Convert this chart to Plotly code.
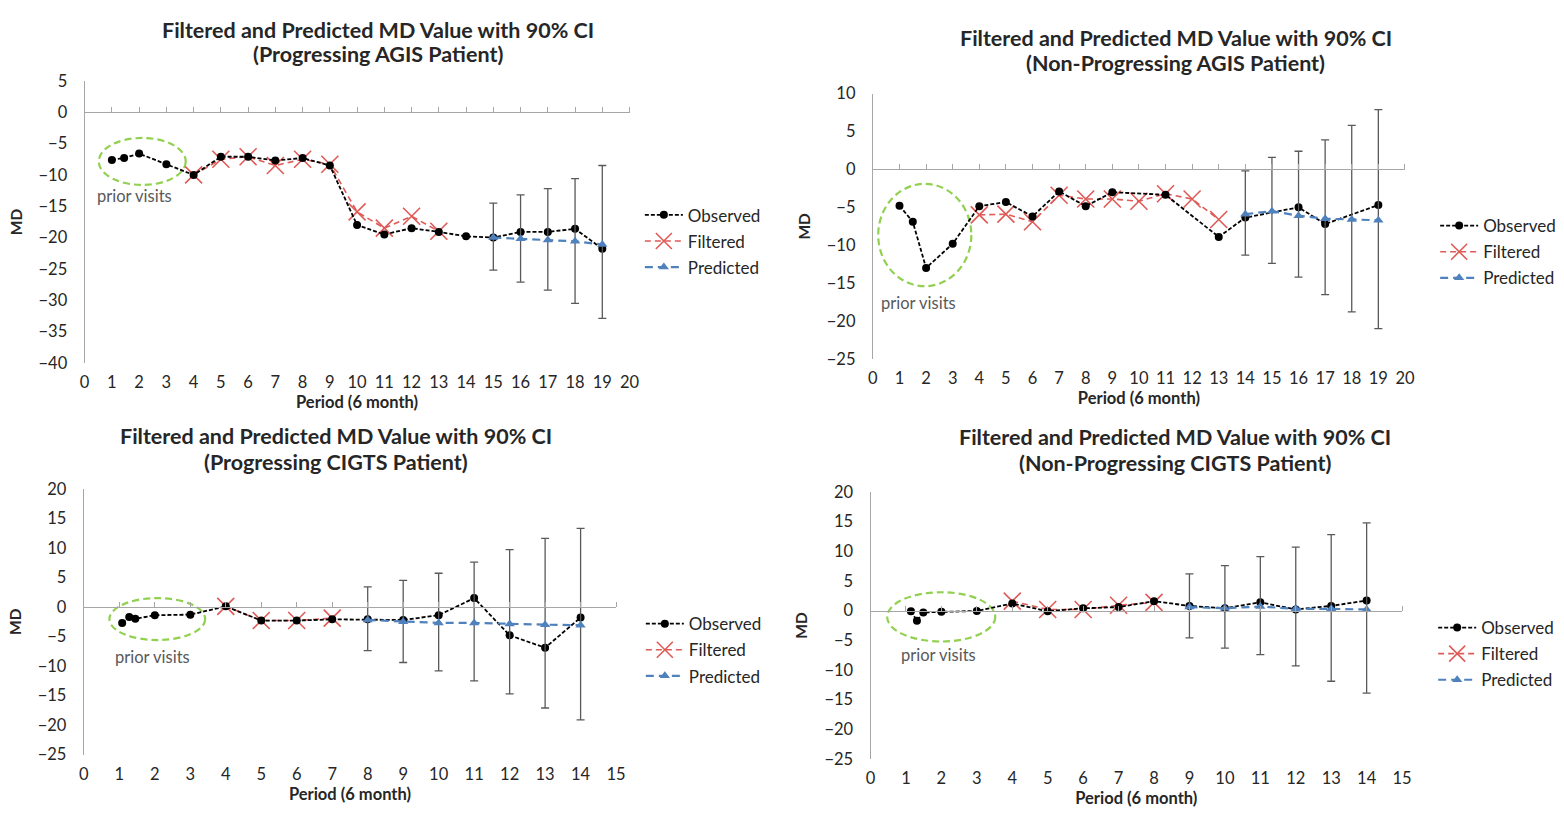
import plotly.graph_objects as go

# ---------------- data ----------------
period_label = "Period (6 month)"
md_label = "MD"
series_names = ["Observed", "Filtered", "Predicted"]
title_line1 = "Filtered and Predicted MD Value with 90% CI"
subtitles = [
    "(Progressing AGIS Patient)",
    "(Non-Progressing AGIS Patient)",
    "(Progressing CIGTS Patient)",
    "(Non-Progressing CIGTS Patient)",
]
note_text = "prior visits"

# Progressing AGIS patient
a_obs_x = [1, 1.45, 2, 3, 4, 5, 6, 7, 8, 9, 10, 11, 12, 13, 14, 15, 16, 17, 18, 19]
a_obs_y = [-7.6, -7.3, -6.6, -8.3, -10.0, -7.1, -7.1, -7.7, -7.3, -8.5,
           -18.0, -19.5, -18.5, -19.1, -19.8, -20.0, -19.1, -19.1, -18.6, -21.8]
a_filt_x = [4, 5, 6, 7, 8, 9, 10, 11, 12, 13]
a_filt_y = [-10.0, -7.5, -7.1, -8.5, -7.5, -8.3, -15.9, -18.5, -16.6, -19.0]
a_pred_x = [15, 16, 17, 18, 19]
a_pred_y = [-20.0, -20.2, -20.4, -20.6, -21.1]
a_ci_hi = [-14.5, -13.2, -12.2, -10.6, -8.5]
a_ci_lo = [-25.2, -27.1, -28.4, -30.5, -32.9]

# Non-progressing AGIS patient
b_obs_x = [1, 1.5, 2, 3, 4, 5, 6, 7, 8, 9, 11, 13, 14, 16, 17, 19]
b_obs_y = [-4.8, -6.9, -13.0, -9.8, -4.85, -4.3, -6.2, -2.9, -4.85, -3.0,
           -3.35, -8.9, -6.35, -5.0, -7.2, -4.7]
b_filt_x = [4, 5, 6, 7, 8, 9, 10, 11, 12, 13]
b_filt_y = [-6.0, -5.9, -6.9, -3.4, -3.9, -3.9, -4.2, -3.2, -3.9, -6.6]
b_pred_x = [14, 15, 16, 17, 18, 19]
b_pred_y = [-5.9, -5.5, -6.1, -6.5, -6.6, -6.7]
b_ci_hi = [-0.2, 1.6, 2.4, 3.9, 5.8, 7.9]
b_ci_lo = [-11.3, -12.4, -14.2, -16.5, -18.8, -21.0]

# Progressing CIGTS patient
c_obs_x = [1.08, 1.28, 1.45, 2, 3, 4, 5, 6, 7, 8, 9, 10, 11, 12, 13, 14]
c_obs_y = [-2.7, -1.7, -2.0, -1.4, -1.3, 0.1, -2.3, -2.3, -2.1, -2.1,
           -2.2, -1.4, 1.5, -4.8, -6.9, -1.8]
c_filt_x = [4, 5, 6, 7]
c_filt_y = [0.1, -2.3, -2.3, -1.9]
c_pred_x = [8, 9, 10, 11, 12, 13, 14]
c_pred_y = [-2.2, -2.5, -2.7, -2.7, -2.9, -3.0, -3.1]
c_ci_hi = [3.4, 4.5, 5.7, 7.6, 9.7, 11.6, 13.3]
c_ci_lo = [-7.4, -9.4, -10.8, -12.5, -14.7, -17.1, -19.1]

# Non-progressing CIGTS patient
d_obs_x = [1.14, 1.31, 1.49, 2, 3, 4, 5, 6, 7, 8, 9, 10, 11, 12, 13, 14]
d_obs_y = [-0.1, -1.7, -0.3, -0.2, -0.05, 1.2, -0.1, 0.4, 0.6, 1.6,
           0.8, 0.4, 1.4, 0.2, 0.8, 1.7]
d_filt_x = [4, 5, 6, 7, 8]
d_filt_y = [1.6, 0.2, 0.2, 0.9, 1.4]
d_pred_x = [9, 10, 11, 12, 13, 14]
d_pred_y = [0.6, 0.4, 0.7, 0.3, 0.3, 0.2]
d_ci_hi = [6.2, 7.6, 9.1, 10.7, 12.8, 14.8]
d_ci_lo = [-4.6, -6.3, -7.4, -9.3, -11.9, -13.9]

# axis ranges per panel
x_max = [20, 20, 15, 15]
y_ranges = [(-40, 5), (-25, 10), (-25, 20), (-25, 20)]

# ---------------- layout helpers ----------------
W, H = 1564, 821
FONT = "Lato"
TXT = "#262626"
AXIS_GRAY = "#A6A6A6"
RED = "#DE5B57"
BLUE = "#4F81BD"
GREEN = "#92D050"


def fx(px):
    return px / W


def fy(py):
    return 1 - py / H


panels = [
    dict(obs=(a_obs_x, a_obs_y), filt=(a_filt_x, a_filt_y), pred=(a_pred_x, a_pred_y),
         ci=(a_ci_lo, a_ci_hi), dom_x=(80.4, 630.6), dom_y=(72.7, 361.7),
         title=(377, 20, 45), legend=(641, 192),
         ellipse=(0.52, 3.71, -4.1, -11.6), note=(1.84, -13.4)),
    dict(obs=(b_obs_x, b_obs_y), filt=(b_filt_x, b_filt_y), pred=(b_pred_x, b_pred_y),
         ci=(b_ci_lo, b_ci_hi), dom_x=(876.3, 1413.5), dom_y=(85.7, 357.7),
         title=(1182, 29, 54), legend=(1444, 203),
         ellipse=(0.2, 3.7, -1.9, -15.4), note=(1.7, -17.6)),
    dict(obs=(c_obs_x, c_obs_y), filt=(c_filt_x, c_filt_y), pred=(c_pred_x, c_pred_y),
         ci=(c_ci_lo, c_ci_hi), dom_x=(79.6, 617.0), dom_y=(490.7, 763.3),
         title=(334, 437, 463), legend=(642, 611),
         ellipse=(0.72, 3.42, 1.5, -5.6), note=(1.94, -8.4)),
    dict(obs=(d_obs_x, d_obs_y), filt=(d_filt_x, d_filt_y), pred=(d_pred_x, d_pred_y),
         ci=(d_ci_lo, d_ci_hi), dom_x=(873.9, 1410.6), dom_y=(494.0, 767.7),
         title=(1181, 438, 464), legend=(1442, 615),
         ellipse=(0.47, 3.52, 3.1, -5.2), note=(1.93, -7.4)),
]

fig = go.Figure()
layout = dict(
    width=W, height=H,
    margin=dict(l=0, r=0, t=0, b=0),
    paper_bgcolor="white", plot_bgcolor="white",
    font=dict(family=FONT, color=TXT, size=16),
    shapes=[], annotations=[], showlegend=True,
)

for i, p in enumerate(panels):
    n = i + 1
    sfx = "" if n == 1 else str(n)
    xa, ya = f"x{sfx}", f"y{sfx}"
    leg = "legend" if n == 1 else f"legend{n}"
    ylo, yhi = y_ranges[i]

    fx_, fl_ = p["filt"]
    fig.add_trace(go.Scatter(
        x=fx_, y=fl_, name=series_names[1], mode="lines+markers",
        line=dict(color=RED, width=1.6, dash="6px,4px"),
        marker=dict(symbol="x-thin-open", size=17, line=dict(color=RED, width=1.6)),
        xaxis=xa, yaxis=ya, legend=leg, legendrank=2, legendgroup=f"f{n}",
    ))
    ox, oy = p["obs"]
    fig.add_trace(go.Scatter(
        x=ox, y=oy, name=series_names[0], mode="lines+markers",
        line=dict(color="black", width=1.8, dash="4px,2px"),
        marker=dict(symbol="circle", size=8, color="black"),
        xaxis=xa, yaxis=ya, legend=leg, legendrank=1, legendgroup=f"o{n}",
    ))
    px_, py_ = p["pred"]
    lo, hi = p["ci"]
    fig.add_trace(go.Scatter(
        x=px_, y=py_, name=series_names[2], mode="lines+markers",
        line=dict(color=BLUE, width=2.2, dash="8px,5px"),
        marker=dict(symbol="triangle-up", size=9, color=BLUE),
        error_y=dict(type="data", symmetric=False,
                     array=[h - v for h, v in zip(hi, py_)],
                     arrayminus=[v - l for l, v in zip(lo, py_)],
                     color="#595959", thickness=1.3, width=4),
        xaxis=xa, yaxis=ya, legend=leg, legendrank=3, legendgroup=f"p{n}",
    ))
    # empty trace that binds the zero-crossing axis so it gets drawn
    zx = f"x{n + 4}"
    fig.add_trace(go.Scatter(
        x=[0], y=[ylo], mode="markers", marker=dict(opacity=0),
        xaxis=zx, yaxis=ya, showlegend=False, hoverinfo="skip",
    ))

    dx = [fx(p["dom_x"][0]), fx(p["dom_x"][1])]
    dy = [fy(p["dom_y"][1]), fy(p["dom_y"][0])]

    # category axis: labels along the bottom of the plot
    layout[f"xaxis{sfx}"] = dict(
        domain=dx, anchor=ya, range=[0, x_max[i]], tick0=0, dtick=1,
        showline=False, showgrid=False, zeroline=False, ticks="",
        tickfont=dict(size=16.5, color=TXT), ticklabelstandoff=8,
        title=dict(text=f"<b>{period_label}</b>", font=dict(size=16.5, color=TXT), standoff=4),
        fixedrange=True,
    )
    # value axis
    layout[f"yaxis{sfx}"] = dict(
        domain=dy, anchor=xa, range=[ylo, yhi], tick0=0, dtick=5,
        showline=True, linecolor=AXIS_GRAY, linewidth=1.2,
        showgrid=False, zeroline=False, ticks="",
        tickfont=dict(size=16.5, color=TXT), ticklabelstandoff=13,
        title=dict(text=f"<b>{md_label}</b>", font=dict(size=15.5, color=TXT), standoff=12),
        fixedrange=True,
    )
    # horizontal axis line crossing at MD = 0, with its tick marks
    zero_pos = dy[0] + (0 - ylo) / (yhi - ylo) * (dy[1] - dy[0])
    layout[f"xaxis{n + 4}"] = dict(
        overlaying=xa, anchor="free", position=zero_pos,
        side="top", range=[0, x_max[i]], tick0=0, dtick=1,
        showline=True, linecolor=AXIS_GRAY, linewidth=1.2,
        ticks="outside", ticklen=5, tickcolor=AXIS_GRAY, tickwidth=1.2,
        showticklabels=False, showgrid=False, zeroline=False, fixedrange=True,
    )

    # ellipse around the prior visits
    ex0, ex1, ey0, ey1 = p["ellipse"]
    layout["shapes"].append(dict(
        type="circle", xref=xa, yref=ya, x0=ex0, x1=ex1, y0=ey0, y1=ey1,
        line=dict(color=GREEN, width=2.2, dash="7px,4px"), layer="below",
    ))
    nx, ny = p["note"]
    layout["annotations"].append(dict(
        xref=xa, yref=ya, x=nx, y=ny, text=note_text, showarrow=False,
        font=dict(size=16.5, color="#595959"),
    ))

    # two-line panel title
    tx, ty1, ty2 = p["title"]
    for txt, ty in ((title_line1, ty1), (subtitles[i], ty2)):
        layout["annotations"].append(dict(
            xref="paper", yref="paper", x=fx(tx), y=fy(ty), xanchor="center",
            yanchor="middle", text=f"<b>{txt}</b>", showarrow=False,
            font=dict(size=21.5, color=TXT),
        ))

    lx, ly = p["legend"]
    layout[leg] = dict(
        x=fx(lx), y=fy(ly), xanchor="left", yanchor="top",
        bgcolor="rgba(0,0,0,0)", font=dict(size=17, color=TXT),
        tracegroupgap=1, itemwidth=38,
    )

fig.update_layout(**layout)
fig.write_html("out.html")
